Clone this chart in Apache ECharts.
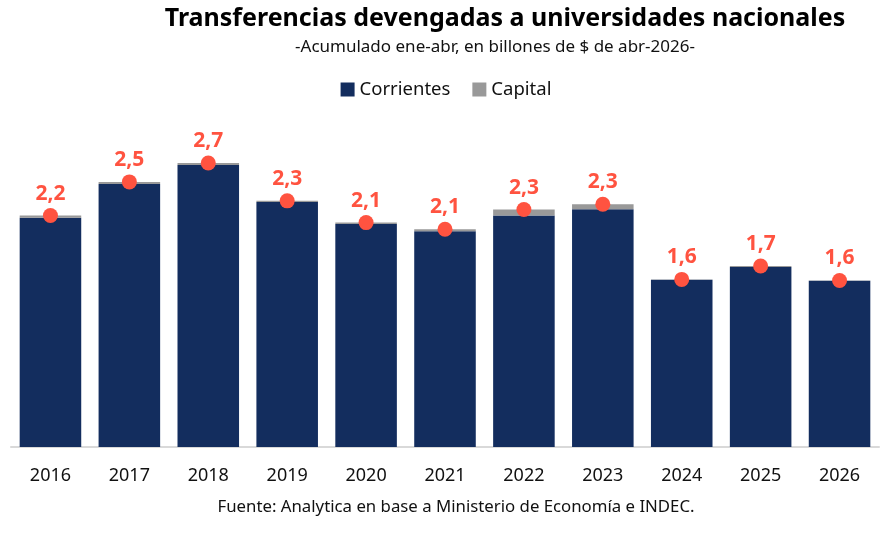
<!DOCTYPE html>
<html><head><meta charset="utf-8">
<script src="https://cdn.jsdelivr.net/npm/echarts@6/dist/echarts.min.js"></script>
<style>html,body{margin:0;padding:0;background:#fff}#c{width:892px;height:535px}</style>
</head><body><div id="c"></div>
<script>
const years = ['2016','2017','2018','2019','2020','2021','2022','2023','2024','2025','2026'];
const corrientes = [2.18, 2.50, 2.68, 2.33, 2.12, 2.05, 2.20, 2.26, 1.59, 1.71, 1.58];
const capital = [0.02, 0.02, 0.02, 0.01, 0.013, 0.02, 0.057, 0.048, 0.003, 0.01, 0.003];
const totals = corrientes.map((v, i) => +(v + capital[i]).toFixed(3));

const chart = echarts.init(document.getElementById('c'));
const F = '"Noto Sans", sans-serif';
chart.setOption({
  animation: false,
  title: [
    {text: 'Transferencias devengadas a universidades nacionales', left: 500, top: 1, textAlign: 'center',
     textStyle: {fontFamily: F, fontSize: 25, fontWeight: 'bold', color: '#000'}},
    {text: '-Acumulado ene-abr, en billones de $ de abr-2026-', left: 490, top: 34, textAlign: 'center',
     textStyle: {fontFamily: F, fontSize: 17, fontWeight: 'normal', color: '#111'}},
    {text: 'Fuente: Analytica en base a Ministerio de Economía e INDEC.', left: 451, top: 494, textAlign: 'center',
     textStyle: {fontFamily: F, fontSize: 16.8, fontWeight: 'normal', color: '#111'}}
  ],
  legend: {
    data: ['Corrientes', 'Capital'], top: 75, left: 'center', itemWidth: 14, itemHeight: 14, itemGap: 22,
    icon: 'rect', textStyle: {fontFamily: F, fontSize: 18.5, color: '#111'}
  },
  grid: {left: 11, right: 13, top: 131.4, bottom: 88},
  xAxis: {
    type: 'category', data: years,
    axisLine: {lineStyle: {color: '#d9d9d9', width: 2}}, axisTick: {show: false},
    axisLabel: {fontFamily: F, fontSize: 18, color: '#111', margin: 20}
  },
  yAxis: {type: 'value', min: 0, max: 3, show: false, splitLine: {show: false}},
  series: [
    {name: 'Corrientes', type: 'bar', stack: 't', data: corrientes, barCategoryGap: '22%',
     itemStyle: {color: '#132D5E'}},
    {name: 'Capital', type: 'bar', stack: 't', data: capital, itemStyle: {color: '#999999'}},
    {name: 'Total', type: 'scatter', data: totals, symbol: 'circle', symbolSize: 15, z: 5,
     itemStyle: {color: '#FF5340', opacity: 1},
     label: {show: true, position: 'top', distance: 4, color: '#FF5340', fontFamily: F, fontSize: 21, fontWeight: 'bold',
       formatter: p => p.value.toFixed(1).replace('.', ',')}}
  ]
});
</script></body></html>
